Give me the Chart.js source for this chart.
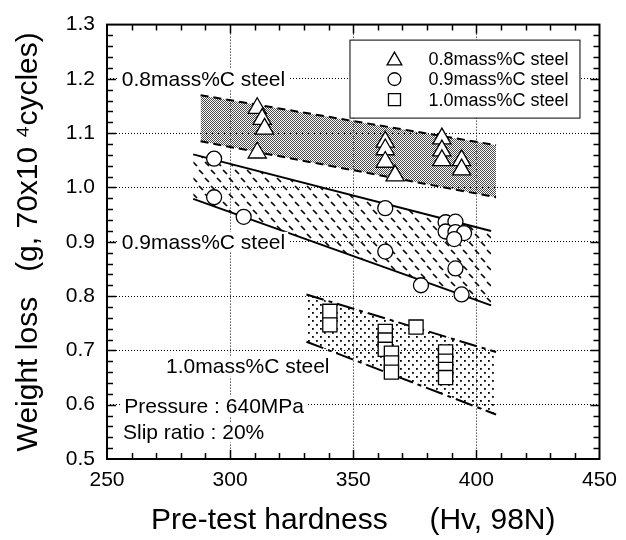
<!DOCTYPE html>
<html lang="en">
<head>
<meta charset="UTF-8">
<title>Weight loss vs pre-test hardness</title>
<script src="https://cdn.jsdelivr.net/npm/chart.js@4.4.0/dist/chart.umd.min.js"></script>
<style>
  html, body { margin: 0; padding: 0; background: #fff; }
</style>
</head>
<body>
<canvas id="chart" width="626" height="540"></canvas>

<script>
const hardness08 = [311, 313, 314, 311, 363, 363, 363, 367, 386, 386, 386, 394, 394];
const loss08     = [1.146, 1.126, 1.108, 1.064, 1.084, 1.070, 1.047, 1.022, 1.090, 1.068, 1.050, 1.050, 1.033];

const hardness09 = [293.5, 293.5, 305.5, 363, 363, 377.5, 387.5, 391.5, 387.5, 391.5, 395, 391, 391.5, 394];
const loss09     = [1.053, 0.982, 0.946, 0.962, 0.882, 0.820, 0.936, 0.937, 0.919, 0.918, 0.916, 0.905, 0.851, 0.803];

const hardness10 = [340.5, 340.5, 363, 363, 363, 365.5, 365.5, 365.5, 375.5, 387.5, 387.5, 387.5, 387.5];
const loss10     = [0.772, 0.747, 0.735, 0.719, 0.702, 0.695, 0.677, 0.660, 0.743, 0.697, 0.680, 0.665, 0.650];

// scatter bands (x ends, upper and lower edge)
const band08X = [288, 408], band08Upper = [1.170, 1.078], band08Lower = [1.085, 0.982];
const band09X = [285, 406], band09Upper = [1.061, 0.920], band09Lower = [0.979, 0.783];
const band10X = [331, 408], band10Upper = [0.803, 0.697], band10Lower = [0.716, 0.582];

const seriesNames = ['0.8mass%C steel', '0.9mass%C steel', '1.0mass%C steel'];
const testNotes = ['Pressure : 640MPa', 'Slip ratio : 20%'];

const FONT = "'Liberation Sans', Arial, Helvetica, sans-serif";
Chart.defaults.font.family = FONT;
Chart.defaults.color = '#000';

function pts(xs, ys) { return xs.map((v, i) => ({ x: v, y: ys[i] })); }

function makePattern(w, h, draw) {
  const c = document.createElement('canvas');
  c.width = w; c.height = h;
  const g = c.getContext('2d');
  draw(g);
  return g.createPattern(c, 'repeat');
}

// fine gray halftone
const grayPat = makePattern(2, 2, g => {
  g.fillStyle = '#4a4a4a';
  g.fillRect(0, 0, 1, 1);
  g.fillRect(1, 1, 1, 1);
});
// short dashes, alternating directions
const hatchPat = makePattern(12, 16, g => {
  g.strokeStyle = '#000'; g.lineWidth = 1.7;
  g.beginPath();
  g.moveTo(1, 2); g.lineTo(5, 6);
  g.moveTo(7, 10); g.lineTo(11, 14);
  g.stroke();
});
// sparse dots
const dotPat = makePattern(8, 8, g => {
  g.fillStyle = '#000';
  g.fillRect(0, 0, 1.8, 1.8);
  g.fillRect(4, 4, 1.8, 1.8);
});

function bandLine(xs, ys, dash, fill, bg) {
  return {
    type: 'line', data: pts(xs, ys), order: 1,
    borderColor: '#000', borderWidth: 2, borderDash: dash,
    pointRadius: 0, fill: fill, backgroundColor: bg || 'transparent'
  };
}

const markerBase = { borderColor: '#000', backgroundColor: '#fff', borderWidth: 1.3, order: 0 };

// frame, inward ticks, text notes and the boxed legend
const overlay = {
  id: 'overlay',
  afterDatasetsDraw(chart) {
    const { ctx, chartArea: a, scales: { x, y } } = chart;
    ctx.save();

    ctx.strokeStyle = '#000';
    ctx.lineWidth = 1.5;
    ctx.beginPath();
    for (let v = 260; v < 450; v += 10) {
      const px = Math.round(x.getPixelForValue(v)) + 0.5;
      const len = v % 50 === 0 ? 9 : 6;
      ctx.moveTo(px, a.bottom); ctx.lineTo(px, a.bottom - len);
      ctx.moveTo(px, a.top); ctx.lineTo(px, a.top + len);
    }
    for (let i = 1; i < 40; i++) {
      const py = Math.round(y.getPixelForValue(0.5 + i * 0.02)) + 0.5;
      const len = i % 5 === 0 ? 9 : 6;
      ctx.moveTo(a.left, py); ctx.lineTo(a.left + len, py);
      ctx.moveTo(a.right, py); ctx.lineTo(a.right - len, py);
    }
    ctx.stroke();

    ctx.lineWidth = 2;
    ctx.strokeRect(a.left, a.top, a.right - a.left, a.bottom - a.top);

    // notes with white backing over the grid
    ctx.font = '21px ' + FONT;
    ctx.textBaseline = 'middle';
    ctx.textAlign = 'left';
    const notes = [
      [seriesNames[0], 256, 1.2],
      [seriesNames[1], 256, 0.9],
      [seriesNames[2], 274, 0.670],
      [testNotes[0], 257, 0.597],
      [testNotes[1], 256.5, 0.549]
    ];
    notes.forEach(([t, vx, vy]) => {
      const px = x.getPixelForValue(vx), py = y.getPixelForValue(vy);
      const w = ctx.measureText(t).width;
      ctx.fillStyle = '#fff';
      ctx.fillRect(px - 3, py - 10, w + 6, 20);
      ctx.fillStyle = '#000';
      ctx.fillText(t, px, py + 1);
    });

    // legend box
    const lx = a.right - 250, ly = a.top + 15, lw = 230, lh = 78;
    ctx.fillStyle = '#fff';
    ctx.fillRect(lx, ly, lw, lh);
    ctx.lineWidth = 1;
    ctx.strokeStyle = '#000';
    ctx.strokeRect(lx + 0.5, ly + 0.5, lw, lh);
    const styles = [['triangle', 10], ['circle', 7.5], ['rect', 10]];
    ctx.font = '18px ' + FONT;
    seriesNames.forEach((t, i) => {
      const ry = ly + 19 + i * 20.5;
      ctx.fillStyle = '#fff';
      ctx.strokeStyle = '#000';
      ctx.lineWidth = 1.3;
      Chart.helpers.drawPoint(ctx, { pointStyle: styles[i][0], radius: styles[i][1] * 0.85, borderWidth: 1.3 }, lx + 45, ry + (i === 0 ? 2 : 0));
      ctx.fillStyle = '#000';
      ctx.fillText(t, lx + 79, ry + 1);
    });

    ctx.restore();
  }
};

const isInner = (v, lo, hi) => v > lo + 1e-6 && v < hi - 1e-6;

new Chart(document.getElementById('chart'), {
  type: 'scatter',
  data: {
    datasets: [
      Object.assign({ label: seriesNames[0], data: pts(hardness08, loss08), pointStyle: 'triangle', pointRadius: 10.5 }, markerBase),
      Object.assign({ label: seriesNames[1], data: pts(hardness09, loss09), pointStyle: 'circle', pointRadius: 7.5 }, markerBase),
      Object.assign({ label: seriesNames[2], data: pts(hardness10, loss10), pointStyle: 'rect', pointRadius: 10 }, markerBase),
      bandLine(band08X, band08Upper, [8, 5], '+1', grayPat),
      bandLine(band08X, band08Lower, [8, 5], false),
      bandLine(band09X, band09Upper, [], '+1', hatchPat),
      bandLine(band09X, band09Lower, [], false),
      bandLine(band10X, band10Upper, [18, 5, 4, 5], '+1', dotPat),
      bandLine(band10X, band10Lower, [18, 5, 4, 5], false)
    ]
  },
  options: {
    responsive: false,
    animation: false,
    events: [],
    layout: { padding: { top: 18, right: 23, left: 0, bottom: 0 } },
    plugins: {
      legend: { display: false },
      tooltip: { enabled: false },
      filler: { drawTime: 'beforeDatasetsDraw' }
    },
    scales: {
      x: {
        type: 'linear', min: 250, max: 450,
        afterFit: s => { s.height = 81; },
        ticks: { stepSize: 50, font: { size: 21 }, padding: 9, color: '#000' },
        grid: {
          drawTicks: false, lineWidth: 1,
          color: c => isInner(c.tick.value, 250, 450) ? '#000' : 'transparent'
        },
        border: { display: false, dash: [1, 2] },
        title: {
          display: true, text: 'Pre-test hardness     (Hv, 98N)',
          font: { size: 30 }, color: '#000', padding: { top: 0, bottom: 1 }
        }
      },
      y: {
        type: 'linear', min: 0.5, max: 1.3,
        afterFit: s => { s.width = 107; },
        ticks: { stepSize: 0.1, font: { size: 21 }, padding: 12, color: '#000', callback: v => v.toFixed(1) },
        grid: {
          drawTicks: false, lineWidth: 1,
          color: c => isInner(c.tick.value, 0.5, 1.3) ? '#000' : 'transparent'
        },
        border: { display: false, dash: [1, 2] },
        title: {
          display: true, text: 'Weight loss   (g, 70x10 \u2074cycles)',
          font: { size: 30 }, color: '#000', padding: { top: 11, bottom: 0 }
        }
      }
    }
  },
  plugins: [overlay]
});
</script>
</body>
</html>
